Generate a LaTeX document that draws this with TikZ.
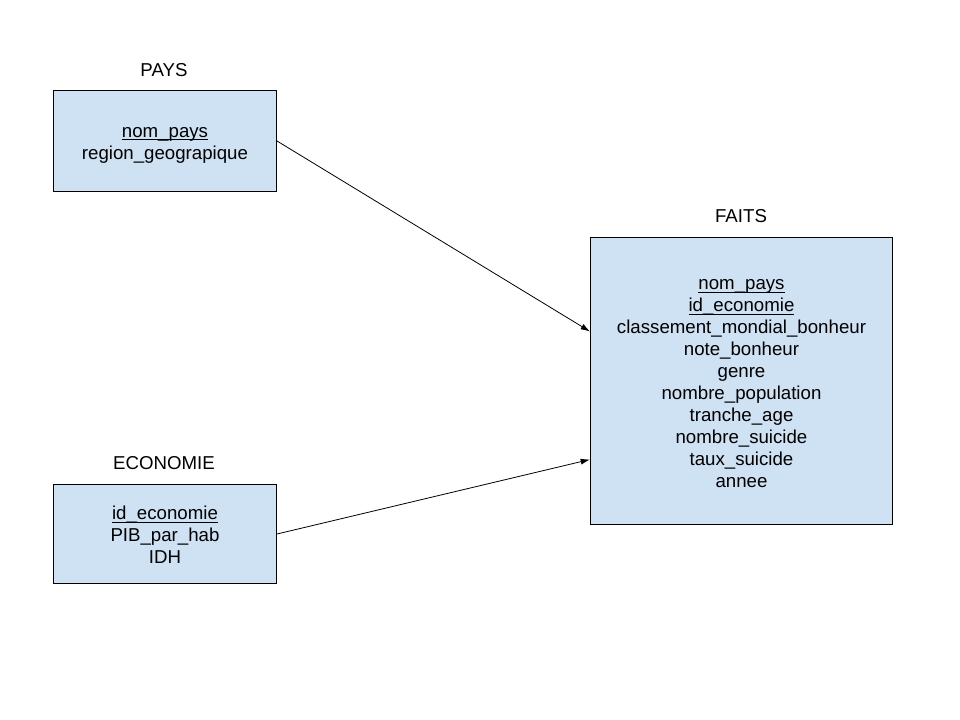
\documentclass[tikz,border=0pt]{standalone}
\usepackage{fontspec}
\setmainfont{Liberation Sans}
\usetikzlibrary{arrows.meta}
\definecolor{boxfill}{HTML}{CFE2F3}
\newcommand\keyul[1]{\setbox0\hbox{#1}\rlap{\rule[-2.2pt]{\wd0}{0.7pt}}\box0}
\begin{document}
\begin{tikzpicture}[x=0.75pt,y=-0.75pt,
  entity/.style={draw=black, fill=boxfill, line width=0.75pt,
    inner sep=0pt, anchor=north west},
  fields/.style={align=center, inner sep=0pt, font=\fontsize{14}{16.5}\selectfont},
  title/.style={font=\fontsize{14}{16.5}\selectfont, inner sep=0pt},
  link/.style={line width=0.6pt, -{Latex[length=7pt,width=4.5pt]}}]
\useasboundingbox (0,0) rectangle (960,720);
\node[entity, minimum width=223*0.75pt, minimum height=101*0.75pt] (pays) at (53,90) {};
\node[fields, yshift=-3pt] (paysfields) at (pays.center)
  {\keyul{nom\_pays}\\region\_geograpique};
\node[title] (paystitle) at (164,70) {PAYS};
\node[entity, minimum width=223*0.75pt, minimum height=99*0.75pt] (eco) at (53,484) {};
\node[fields, yshift=-0.75pt] (ecofields) at (eco.center)
  {\keyul{id\_economie}\\PIB\_par\_hab\\IDH};
\node[title] (ecotitle) at (164,463) {ECONOMIE};
\node[entity, minimum width=302*0.75pt, minimum height=287*0.75pt] (faits) at (590,237) {};
\node[fields, yshift=-2.25pt] (faitsfields) at (faits.center)
  {\keyul{nom\_pays}\\\keyul{id\_economie}\\classement\_mondial\_bonheur\\note\_bonheur\\genre\\nombre\_population\\tranche\_age\\nombre\_suicide\\taux\_suicide\\annee};
\node[title] (faitstitle) at (741,216) {FAITS};
\coordinate (in1) at ([yshift=49.5*0.75pt]faits.west);
\coordinate (in2) at ([yshift=-78.5*0.75pt]faits.west);
\draw[link] (pays.east) -- (in1);
\draw[link] (eco.east) -- (in2);
\end{tikzpicture}
\end{document}
